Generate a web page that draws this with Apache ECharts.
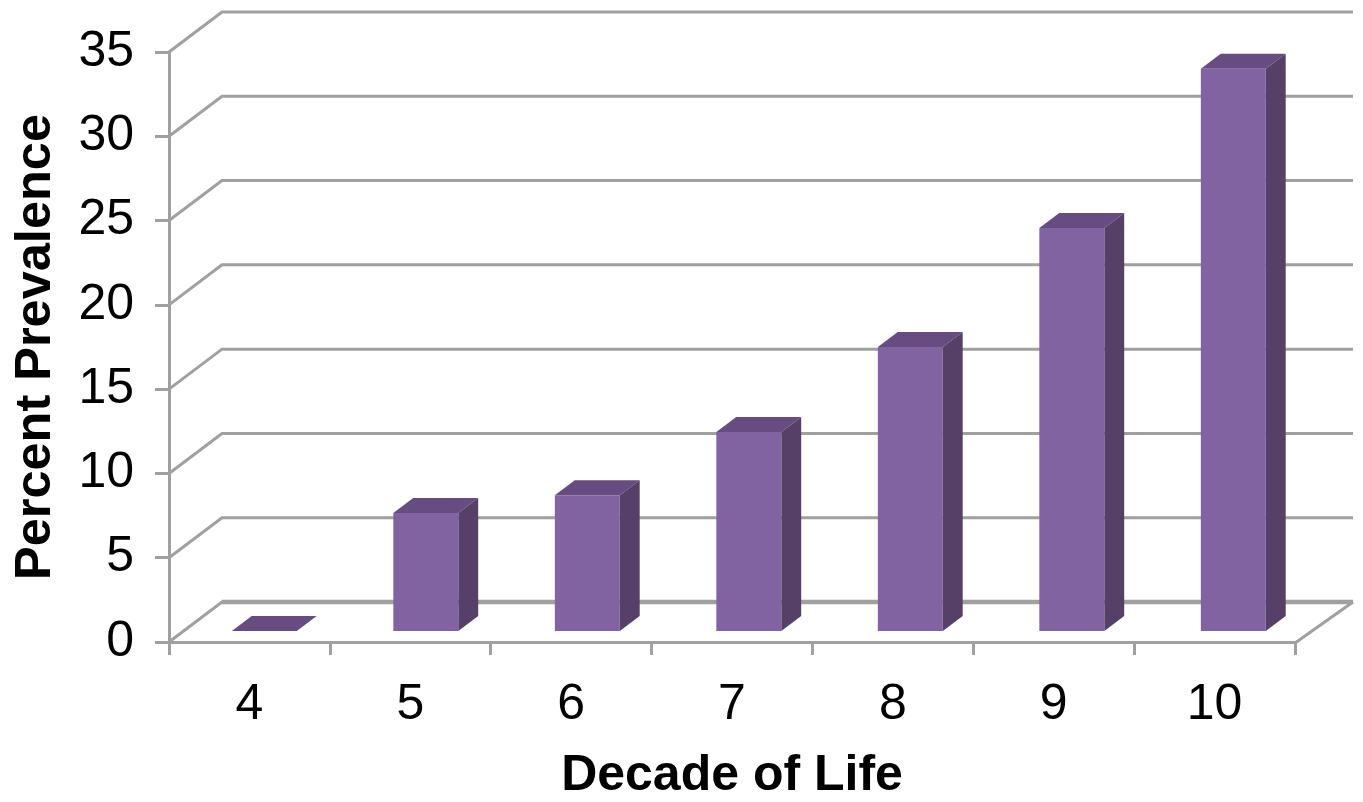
<!DOCTYPE html>
<html>
<head>
<meta charset="utf-8">
<style>html,body{margin:0;padding:0;background:#fff}#chart{width:1363px;height:802px}</style>
<script src="https://cdn.jsdelivr.net/npm/echarts@6/dist/echarts.min.js"></script>
</head>
<body>
<div id="chart"></div>
<script>
// Prevalence by decade of life, drawn as a box-style column chart
const decades = ['4', '5', '6', '7', '8', '9', '10'];
const prevalence = [0, 7.0, 8.05, 11.8, 16.85, 23.9, 33.35];
const yTicks = [0, 5, 10, 15, 20, 25, 30, 35];

const FONT = '"Liberation Sans", Arial, sans-serif';
const GRID_COLOR = '#a0a0a0';
// Oblique projection of the chart box, in pixels
const WALL_DX = 53, WALL_DY = -40;
const WALL_DX_RIGHT = 58;                   // the right edge recedes slightly further
const BAR_FRONT = 0.275, BAR_BACK = 0.65;   // bar depth as a share of the floor depth
const BAR_SHARE = 0.404;                    // bar width as a share of a category band
const BAR_SPREAD = 1.004;                   // mid-floor plane is a little wider than the front edge

const chart = echarts.init(document.getElementById('chart'), null, { renderer: 'canvas' });

function line(points, width) {
  return {
    type: 'polyline',
    shape: { points },
    style: { fill: null, stroke: GRID_COLOR, lineWidth: width, lineJoin: 'miter' }
  };
}

// Side wall and back wall rules for one y tick
function renderWall(params, api) {
  const v = api.value(0);
  const left = api.coord([0, v]);
  const band = api.size([1, 0])[0];
  const x0 = left[0] - band / 2;
  const xEnd = x0 + band * decades.length;
  const y = left[1];
  const pts = [[x0, y], [x0 + WALL_DX, y + WALL_DY], [xEnd + WALL_DX_RIGHT, y + WALL_DY]];
  const children = [line(pts, 3)];
  if (v === 0) {
    children.push(line([[x0 + WALL_DX, y + WALL_DY], [xEnd + WALL_DX_RIGHT, y + WALL_DY]], 4.5));
    children.push(line([[xEnd, y + 1], [xEnd + WALL_DX_RIGHT, y + WALL_DY]], 3));
  }
  return { type: 'group', children };
}

// One column: front face, top face and right face
function renderBar(params, api) {
  const idx = api.value(0);
  const val = api.value(1);
  const base = api.coord([idx, 0]);
  const top = api.coord([idx, val]);
  const band = api.size([1, 0])[0];
  const x0 = api.coord([0, 0])[0] - band / 2;
  const w = band * BAR_SHARE;
  const ox = WALL_DX * BAR_FRONT, oy = WALL_DY * BAR_FRONT;
  const dx = WALL_DX * (BAR_BACK - BAR_FRONT), dy = WALL_DY * (BAR_BACK - BAR_FRONT);
  const cx = x0 + ox + (base[0] - x0) * BAR_SPREAD;
  const xl = cx - w / 2, xr = xl + w;
  const yb = base[1] + oy, yt = top[1] + oy;
  const poly = (points, fill) => ({ type: 'polygon', shape: { points }, style: { fill } });
  const children = [
    poly([[xl, yt], [xr, yt], [xr + dx, yt + dy], [xl + dx, yt + dy]], '#664c80')
  ];
  if (val > 0) {
    children.push(poly([[xr, yb], [xr + dx, yb + dy], [xr + dx, yt + dy], [xr, yt]], '#564068'));
    children.push(poly([[xl, yb], [xr, yb], [xr, yt], [xl, yt]], '#8063a0'));
  }
  return { type: 'group', children };
}

chart.setOption({
  animation: false,
  backgroundColor: '#ffffff',
  grid: { left: 169, right: 68, top: 52, bottom: 160, containLabel: false, outerBoundsMode: 'none' },
  xAxis: {
    type: 'category',
    data: decades,
    name: 'Decade of Life',
    nameLocation: 'middle',
    nameGap: 109,
    nameTextStyle: { fontFamily: FONT, fontWeight: 'bold', fontSize: 50, color: '#000' },
    axisLine: { show: true, lineStyle: { color: GRID_COLOR, width: 3 } },
    axisTick: { show: true, length: 13, alignWithLabel: false, lineStyle: { color: GRID_COLOR, width: 3 } },
    axisLabel: { fontFamily: FONT, fontSize: 50, color: '#000', margin: 38 }
  },
  yAxis: {
    type: 'value',
    min: 0,
    max: 35,
    interval: 5,
    name: 'Percent Prevalence',
    nameLocation: 'middle',
    nameGap: 107,
    nameTextStyle: { fontFamily: FONT, fontWeight: 'bold', fontSize: 50.5, color: '#000' },
    axisLine: { show: true, onZero: false, lineStyle: { color: GRID_COLOR, width: 3 } },
    axisTick: { show: true, length: 14, lineStyle: { color: GRID_COLOR, width: 3 } },
    axisLabel: { fontFamily: FONT, fontSize: 50, color: '#000', margin: 35, padding: [4, 0, 0, 0] },
    splitLine: { show: false }
  },
  series: [
    {
      type: 'custom',
      z: 1,
      silent: true,
      renderItem: renderWall,
      encode: { y: 0 },
      data: yTicks.map(v => [v])
    },
    {
      type: 'custom',
      z: 3,
      renderItem: renderBar,
      encode: { x: 0, y: 1 },
      data: prevalence.map((v, i) => [i, v])
    }
  ]
});
</script>
</body>
</html>
